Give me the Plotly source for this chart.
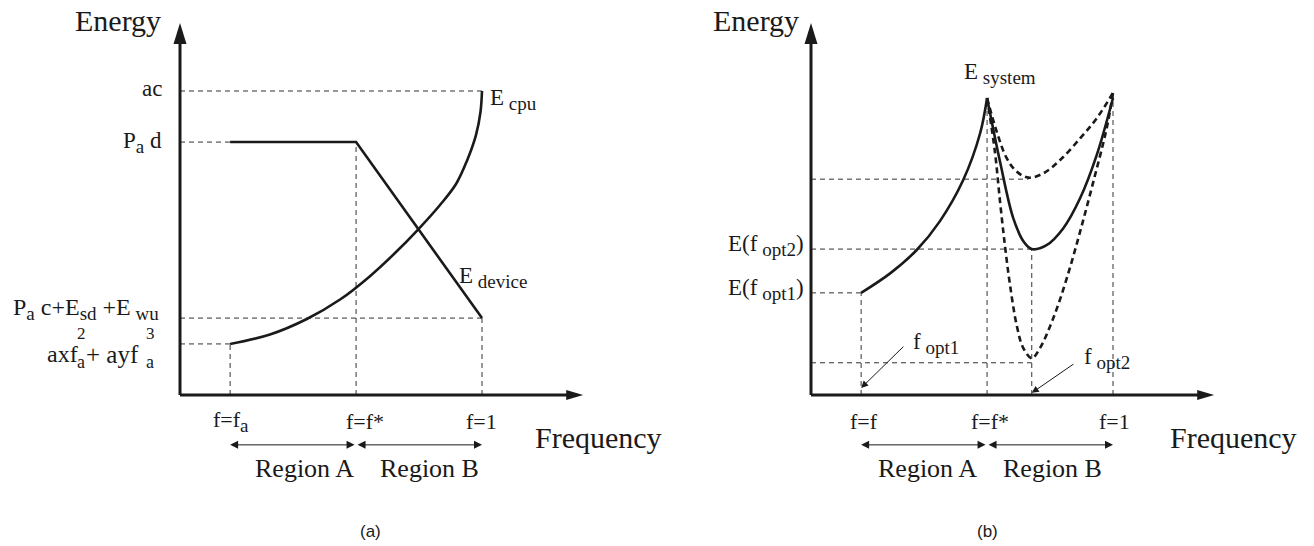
import plotly.graph_objects as go

W, H = 1314, 546
SERIF = "Liberation Serif, Times New Roman, serif"
SANS = "Liberation Sans, Arial, sans-serif"
INK = "#1a1a1a"

# ---------------- panel (a): CPU energy vs. device energy ----------------
a_ticks = [0.166, 0.583, 1.0]                       # f = f_a, f = f*, f = 1
cpu_f = [0.166, 0.298, 0.420, 0.530, 0.629, 0.712, 0.789, 0.861, 0.914, 0.950, 0.980, 0.995, 1.0]
cpu_e = [16.8, 19.9, 25.0, 31.4, 39.1, 46.7, 54.5, 62.5, 69.4, 77.0, 85.5, 93.1, 100.0]
device_f = [0.166, 0.583, 1.0]
device_e = [83.2, 83.2, 25.3]
level_ac = 100.0
level_pad = 83.2
level_idle = 25.3
level_cpu_fa = 16.8

# ---------------- panel (b): total system energy ----------------
b_ticks = [0.166, 0.583, 1.0]                       # f = f, f = f*, f = 1
f_opt1, f_opt2 = 0.166, 0.731
sys_left_f = [0.166, 0.262, 0.350, 0.427, 0.504, 0.560, 0.583]
sys_left_e = [33.6, 40.0, 47.7, 57.2, 70.7, 86.1, 97.7]
sys_mid_f = [0.583, 0.626, 0.670, 0.705, 0.731, 0.780, 0.835, 0.891, 0.946, 1.0]
sys_mid_e = [97.7, 76.7, 58.1, 50.3, 48.0, 49.3, 54.8, 64.7, 78.9, 97.7]
sys_high_f = [0.583, 0.615, 0.648, 0.681, 0.720, 0.769, 0.825, 0.891, 0.946, 1.0]
sys_high_e = [97.7, 86.6, 77.9, 73.5, 71.5, 72.9, 77.3, 84.4, 91.0, 99.4]
sys_low_f = [0.583, 0.609, 0.626, 0.642, 0.659, 0.681, 0.703, 0.731, 0.758, 0.802,
             0.847, 0.891, 0.935, 0.979, 1.0]
sys_low_e = [97.7, 80.0, 63.6, 49.3, 36.2, 23.0, 15.4, 12.1, 15.4, 25.2,
             38.4, 53.7, 70.2, 87.7, 99.4]
level_opt1 = 33.6
level_opt2 = 48.0
level_high_min = 71.0
level_low_min = 10.6

# axis geometry (data units): origin at (0, 0)
X_END = 1.335
Y_END = 122.4
PX_PER_F = 302.0
PX_PER_E = 3.04
ORIGIN_A = (180, 395)
ORIGIN_B = (811, 395)

fig = go.Figure()


def guide(xs, ys, ax):
    fig.add_trace(go.Scatter(x=xs, y=ys, mode="lines", xaxis=ax[0], yaxis=ax[1],
                             line=dict(color="#333", width=1, dash="5px,4px"),
                             hoverinfo="skip"))


def curve(xs, ys, ax, dash="solid", shape="spline"):
    fig.add_trace(go.Scatter(x=xs, y=ys, mode="lines", xaxis=ax[0], yaxis=ax[1],
                             line=dict(color=INK, width=2.6, dash=dash, shape=shape,
                                       smoothing=1.0),
                             hoverinfo="skip"))


A = ("x", "y")
B = ("x2", "y2")

# guides, panel (a)
guide([0, 1.0], [level_ac] * 2, A)
guide([0, a_ticks[0]], [level_pad] * 2, A)
guide([0, 1.0], [level_idle] * 2, A)
guide([0, a_ticks[0]], [level_cpu_fa] * 2, A)
guide([a_ticks[0]] * 2, [0, level_cpu_fa], A)
guide([a_ticks[1]] * 2, [0, level_pad], A)
guide([a_ticks[2]] * 2, [0, level_idle], A)

# curves, panel (a)
curve(cpu_f, cpu_e, A)
curve(device_f, device_e, A, shape="linear")

# guides, panel (b)
guide([0, f_opt1], [level_opt1] * 2, B)
guide([f_opt1] * 2, [0, level_opt1], B)
guide([0, f_opt2], [level_opt2] * 2, B)
guide([f_opt2] * 2, [0, level_opt2], B)
guide([0, sys_high_f[4]], [level_high_min] * 2, B)
guide([0, f_opt2], [level_low_min] * 2, B)
guide([b_ticks[1]] * 2, [0, sys_left_e[-1]], B)
guide([b_ticks[2]] * 2, [0, sys_high_e[-1]], B)

# curves, panel (b)
curve(sys_left_f, sys_left_e, B)
curve(sys_mid_f, sys_mid_e, B)
curve(sys_high_f, sys_high_e, B, dash="6px,4px")
curve(sys_low_f, sys_low_e, B, dash="6px,4px")

shapes = []
annotations = []

# coordinate axes with filled arrowheads
for xr, yr in (("x", "y"), ("x2", "y2")):
    shapes.append(dict(type="line", xref=xr, yref=yr, x0=0, y0=0, x1=X_END - 0.04, y1=0,
                       line=dict(color=INK, width=3)))
    shapes.append(dict(type="line", xref=xr, yref=yr, x0=0, y0=0, x1=0, y1=Y_END - 5,
                       line=dict(color=INK, width=3)))
    hl, hw = 17 / PX_PER_F, 5 / PX_PER_E
    shapes.append(dict(type="path", xref=xr, yref=yr, fillcolor=INK, line=dict(width=0),
                       path=f"M {X_END} 0 L {X_END - hl} {hw} L {X_END - hl} {-hw} Z"))
    vl, vw = 21 / PX_PER_E, 6.5 / PX_PER_F
    shapes.append(dict(type="path", xref=xr, yref=yr, fillcolor=INK, line=dict(width=0),
                       path=f"M 0 {Y_END} L {vw} {Y_END - vl} L {-vw} {Y_END - vl} Z"))


def sub(s, size=19):
    return f'<sub><span style="font-size:{size}px">{s}</span></sub>'


def text(s, x, y, size=23, xanchor="center", yanchor="middle", font=SERIF):
    annotations.append(dict(text=s, x=x / W, y=1 - y / H, xref="paper", yref="paper",
                            xanchor=xanchor, yanchor=yanchor, showarrow=False,
                            font=dict(family=font, size=size, color=INK)))


def arrow(xr, yr, x_head, y_head, x_tail, y_tail, both=False, width=1, size=1.6):
    annotations.append(dict(text="", xref=xr, yref=yr, axref=xr, ayref=yr,
                            x=x_head, y=y_head, ax=x_tail, ay=y_tail, showarrow=True,
                            arrowhead=2, arrowsize=size, arrowwidth=width,
                            arrowcolor=INK, standoff=0, startstandoff=0,
                            arrowside="end+start" if both else "end"))


REGION_E = -16.4

# panel (a) texts
text("Energy", 163, 21, size=30, xanchor="right")
text("Frequency", 533, 437, size=30, xanchor="left")
text("ac", 164, 89, xanchor="right")
text("P" + sub("a") + " d", 164, 143, xanchor="right")
text("P" + sub("a") + " c+E" + sub("sd") + " +E" + sub(" wu"), 161, 309, size=24,
     xanchor="right")
text("axf", 45, 354, size=24, xanchor="left")
text("2", 75, 333, size=17, xanchor="left")
text("a", 75, 362, size=18, xanchor="left")
text("+ ayf", 84, 354, size=25, xanchor="left")
text("3", 144, 333, size=17, xanchor="left")
text("a", 144, 362, size=18, xanchor="left")
tick_a = ["f=f" + sub("a"), "f=f*", "f=1"]
for f, s, dx in zip(a_ticks, tick_a, (1, 9, -1)):
    text(s, ORIGIN_A[0] + f * PX_PER_F + dx, 421, size=22)
text("Region A", 304, 469, size=26)
text("Region B", 429, 469, size=26)
text("E" + sub(" cpu"), 488, 99, xanchor="left")
text("E" + sub(" device"), 457, 277, xanchor="left")
text("(a)", 370, 531, size=17, font=SANS)
arrow("x", "y", a_ticks[0], REGION_E, a_ticks[1], REGION_E, both=True)
arrow("x", "y", a_ticks[2], REGION_E, a_ticks[1], REGION_E, both=True)

# panel (b) texts
text("Energy", 801, 21, size=30, xanchor="right")
text("Frequency", 1168, 437, size=30, xanchor="left")
text("E" + sub(" system"), 962, 74, xanchor="left")
text("E(f" + sub(" opt2") + ")", 806, 246, xanchor="right")
text("E(f" + sub(" opt1") + ")", 806, 289, xanchor="right")
text("f" + sub(" opt1"), 911, 343, xanchor="left")
text("f" + sub(" opt2"), 1082, 358, xanchor="left")
tick_b = ["f=f", "f=f*", "f=1"]
for f, s, dx in zip(b_ticks, tick_b, (3, 3, 1)):
    text(s, ORIGIN_B[0] + f * PX_PER_F + dx, 421, size=22)
text("Region A", 927, 469, size=26)
text("Region B", 1052, 469, size=26)
text("(b)", 987, 531, size=17, font=SANS)
arrow("x2", "y2", b_ticks[0], REGION_E, b_ticks[1], REGION_E, both=True)
arrow("x2", "y2", b_ticks[2], REGION_E, b_ticks[1], REGION_E, both=True)
arrow("x2", "y2", f_opt1, 2.3, 0.311, 16.4, size=1.4)
arrow("x2", "y2", f_opt2, 0.7, 0.874, 10.5, size=1.4)

y_range = [-(H - ORIGIN_A[1]) / PX_PER_E, ORIGIN_A[1] / PX_PER_E]
axis_off = dict(visible=False, fixedrange=True)
fig.update_layout(
    width=W, height=H, margin=dict(l=0, r=0, t=0, b=0),
    paper_bgcolor="white", plot_bgcolor="white", showlegend=False,
    xaxis=dict(domain=[0, 0.5], range=[-ORIGIN_A[0] / PX_PER_F, (W / 2 - ORIGIN_A[0]) / PX_PER_F], **axis_off),
    yaxis=dict(domain=[0, 1], range=y_range, anchor="x", **axis_off),
    xaxis2=dict(domain=[0.5, 1], range=[(W / 2 - ORIGIN_B[0]) / PX_PER_F, (W - ORIGIN_B[0]) / PX_PER_F],
                anchor="y2", **axis_off),
    yaxis2=dict(domain=[0, 1], range=y_range, anchor="x2", **axis_off),
    shapes=shapes, annotations=annotations,
)

fig.write_html("out.html")
